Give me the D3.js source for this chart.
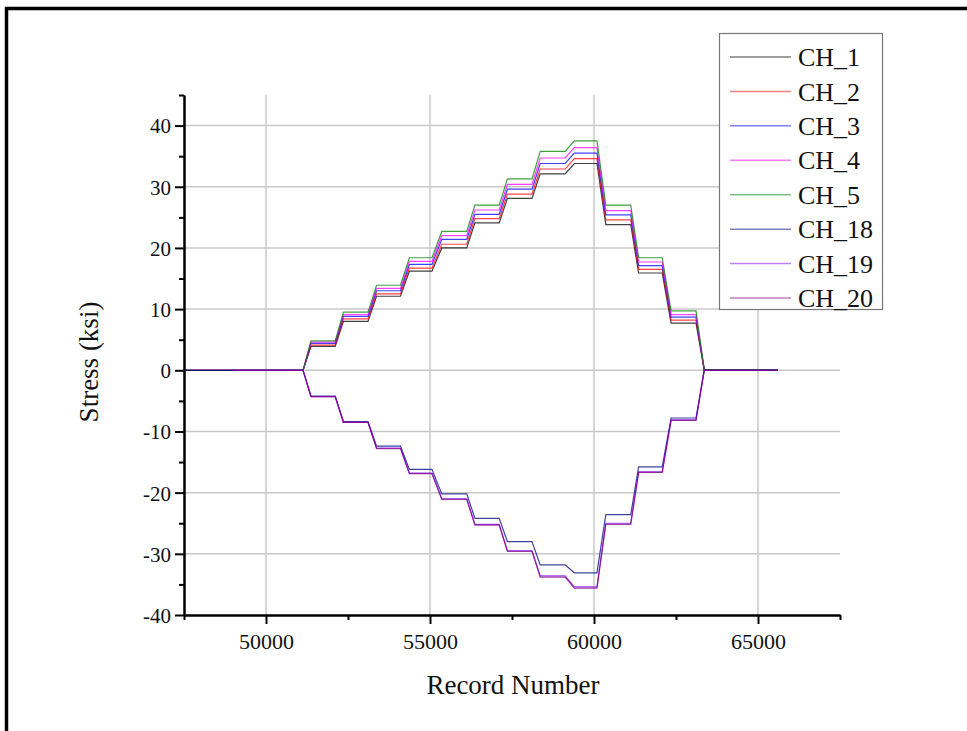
<!DOCTYPE html>
<html>
<head>
<meta charset="utf-8">
<script src="https://cdn.jsdelivr.net/npm/d3@7"></script>
<style>
  html, body { margin: 0; padding: 0; background: #ffffff; }
  svg { display: block; }
</style>
</head>
<body>
<svg id="chart" width="967" height="731"></svg>
<script>
// ---------------- DATA ----------------
const channels = ["CH_1", "CH_2", "CH_3", "CH_4", "CH_5", "CH_18", "CH_19", "CH_20"];
const channelColors = ["#000000", "#ff0000", "#0000ff", "#ff00ff", "#008000", "#000080", "#8000ff", "#800080"];

// record where each channel's trace begins (left part is clipped by the axis)
const traceStart = [47000, 47000, 47000, 47000, 47000, 47000, 49000, 49000];
const loadStart = 51130;       // record where loading begins
const unloadEnd = 63360;       // record where stress returns to zero
const traceEnd = 65600;        // last record

// each load step: record at which the plateau is reached and record at which it ends
const stepReach = [51370, 52360, 53370, 54370, 55360, 56370, 57360, 58360, 59400, 60360, 61360, 62350];
const stepLeave = [52110, 53110, 54100, 55060, 56120, 57110, 58110, 59120, 60090, 61120, 62080, 63110];

// plateau stress (ksi) of each channel at each step
const CH_1  = [3.9, 8.0, 12.1, 16.2, 20.0, 24.1, 28.1, 32.1, 33.8, 23.8, 15.9, 7.7];
const CH_2  = [4.1, 8.4, 12.5, 16.7, 20.6, 24.8, 28.8, 32.9, 34.6, 24.6, 16.5, 8.2];
const CH_3  = [4.4, 8.8, 13.0, 17.3, 21.4, 25.5, 29.6, 33.8, 35.5, 25.4, 17.1, 8.7];
const CH_4  = [4.6, 9.1, 13.4, 17.8, 22.0, 26.2, 30.4, 34.7, 36.4, 26.1, 17.7, 9.1];
const CH_5  = [4.8, 9.5, 13.9, 18.4, 22.7, 27.0, 31.3, 35.8, 37.5, 27.0, 18.4, 9.7];
const CH_18 = [-4.2, -8.4, -12.4, -16.2, -20.2, -24.2, -28.0, -31.8, -33.1, -23.6, -15.8, -7.8];
const CH_19 = [-4.3, -8.5, -12.7, -16.8, -21.0, -25.2, -29.5, -33.6, -35.4, -25.0, -16.6, -8.1];
const CH_20 = [-4.3, -8.5, -12.8, -16.9, -21.1, -25.3, -29.6, -33.8, -35.6, -25.2, -16.7, -8.2];
const stepValues = [CH_1, CH_2, CH_3, CH_4, CH_5, CH_18, CH_19, CH_20];
// residual reading after unloading
const residual = [0.1, 0.1, 0.1, 0.1, 0.1, 0.0, 0.0, 0.0];

const xTicksMajor = [50000, 55000, 60000, 65000];
const xTicksMinor = [47500, 52500, 57500, 62500, 67500];
const yTicksMajor = [-40, -30, -20, -10, 0, 10, 20, 30, 40];
const yTicksMinor = [-35, -25, -15, -5, 5, 15, 25, 35, 45];

// ---------------- CHART ----------------
const svg = d3.select("#chart");
const font = "'Liberation Serif', 'Times New Roman', serif";

const plot = { left: 184, right: 840, top: 95, bottom: 615 };
const x = d3.scaleLinear().domain([47500, 67500]).range([plot.left, plot.right]);
const y = d3.scaleLinear().domain([-40, 45]).range([plot.bottom, plot.top]);

// outer frame (top and left edges)
svg.append("path")
  .attr("d", "M6.5,731 V8.5 H967")
  .attr("fill", "none").attr("stroke", "#000").attr("stroke-width", 3.5);

// grid
const grid = svg.append("g").attr("stroke", "#c8c8c8").attr("stroke-width", 1.5);
grid.selectAll("line.h").data(yTicksMajor.filter(v => v !== -40)).join("line")
  .attr("x1", plot.left).attr("x2", plot.right)
  .attr("y1", d => y(d)).attr("y2", d => y(d));
grid.selectAll("line.v").data(xTicksMajor).join("line")
  .attr("y1", plot.top).attr("y2", plot.bottom)
  .attr("x1", d => x(d)).attr("x2", d => x(d));

// data
svg.append("clipPath").attr("id", "clip").append("rect")
  .attr("x", plot.left).attr("y", plot.top)
  .attr("width", plot.right - plot.left).attr("height", plot.bottom - plot.top);

const series = channels.map((name, i) => {
  const pts = [[traceStart[i], 0], [loadStart, 0]];
  stepValues[i].forEach((v, k) => { pts.push([stepReach[k], v]); pts.push([stepLeave[k], v]); });
  pts.push([unloadEnd, residual[i]]);
  pts.push([traceEnd, residual[i]]);
  return { name, color: channelColors[i], pts };
});

const line = d3.line().x(d => x(d[0])).y(d => y(d[1]));
svg.append("g").attr("clip-path", "url(#clip)")
  .selectAll("path").data(series).join("path")
  .attr("d", d => line(d.pts))
  .attr("fill", "none")
  .attr("stroke", d => d.color)
  .attr("stroke-opacity", 0.75)
  .attr("stroke-width", 1.2);

// axes
function styleAxis(g) {
  g.selectAll(".domain").attr("stroke", "#000").attr("stroke-width", 2);
  g.selectAll(".tick line").attr("stroke", "#000").attr("stroke-width", 2);
  g.selectAll("text").attr("font-family", font).attr("fill", "#111");
}
const fmt = d => String(d);

const gxMinor = svg.append("g").attr("transform", `translate(0,${plot.bottom})`)
  .call(d3.axisBottom(x).tickValues(xTicksMinor).tickSize(5).tickSizeOuter(0).tickFormat(""));
styleAxis(gxMinor);
const gx = svg.append("g").attr("transform", `translate(0,${plot.bottom})`)
  .call(d3.axisBottom(x).tickValues(xTicksMajor).tickSize(9).tickSizeOuter(0).tickFormat(fmt));
styleAxis(gx);
gx.selectAll("text").attr("font-size", 22).attr("y", 34).attr("dy", 0);

const gyMinor = svg.append("g").attr("transform", `translate(${plot.left},0)`)
  .call(d3.axisLeft(y).tickValues(yTicksMinor).tickSize(5).tickSizeOuter(0).tickFormat(""));
styleAxis(gyMinor);
const gy = svg.append("g").attr("transform", `translate(${plot.left},0)`)
  .call(d3.axisLeft(y).tickValues(yTicksMajor).tickSize(9).tickSizeOuter(0).tickFormat(fmt));
styleAxis(gy);
gy.selectAll("text").attr("font-size", 21).attr("x", -13).attr("dy", "0.35em");

// axis titles
svg.append("text")
  .attr("x", 513).attr("y", 694)
  .attr("text-anchor", "middle")
  .attr("font-family", font).attr("font-size", 27).attr("fill", "#111")
  .text("Record Number");
svg.append("text")
  .attr("transform", "translate(98,362) rotate(-90)")
  .attr("text-anchor", "middle")
  .attr("font-family", font).attr("font-size", 27).attr("fill", "#111")
  .text("Stress (ksi)");

// legend
const legend = svg.append("g");
legend.append("rect")
  .attr("x", 719.5).attr("y", 33.5).attr("width", 163).attr("height", 276)
  .attr("fill", "#fff").attr("stroke", "#777").attr("stroke-width", 1.2);
const rowY = d3.scaleLinear().domain([0, channels.length - 1]).range([57, 298]);
const rows = legend.selectAll("g.row").data(series).join("g")
  .attr("transform", (d, i) => `translate(0,${rowY(i)})`);
rows.append("line")
  .attr("x1", 730).attr("x2", 791).attr("y1", 0).attr("y2", 0)
  .attr("stroke", d => d.color).attr("stroke-opacity", 0.5).attr("stroke-width", 1.5);
rows.append("text")
  .attr("x", 798).attr("y", 0).attr("dy", "0.35em")
  .attr("font-family", font).attr("font-size", 26).attr("fill", "#111")
  .text(d => d.name);
</script>
</body>
</html>
